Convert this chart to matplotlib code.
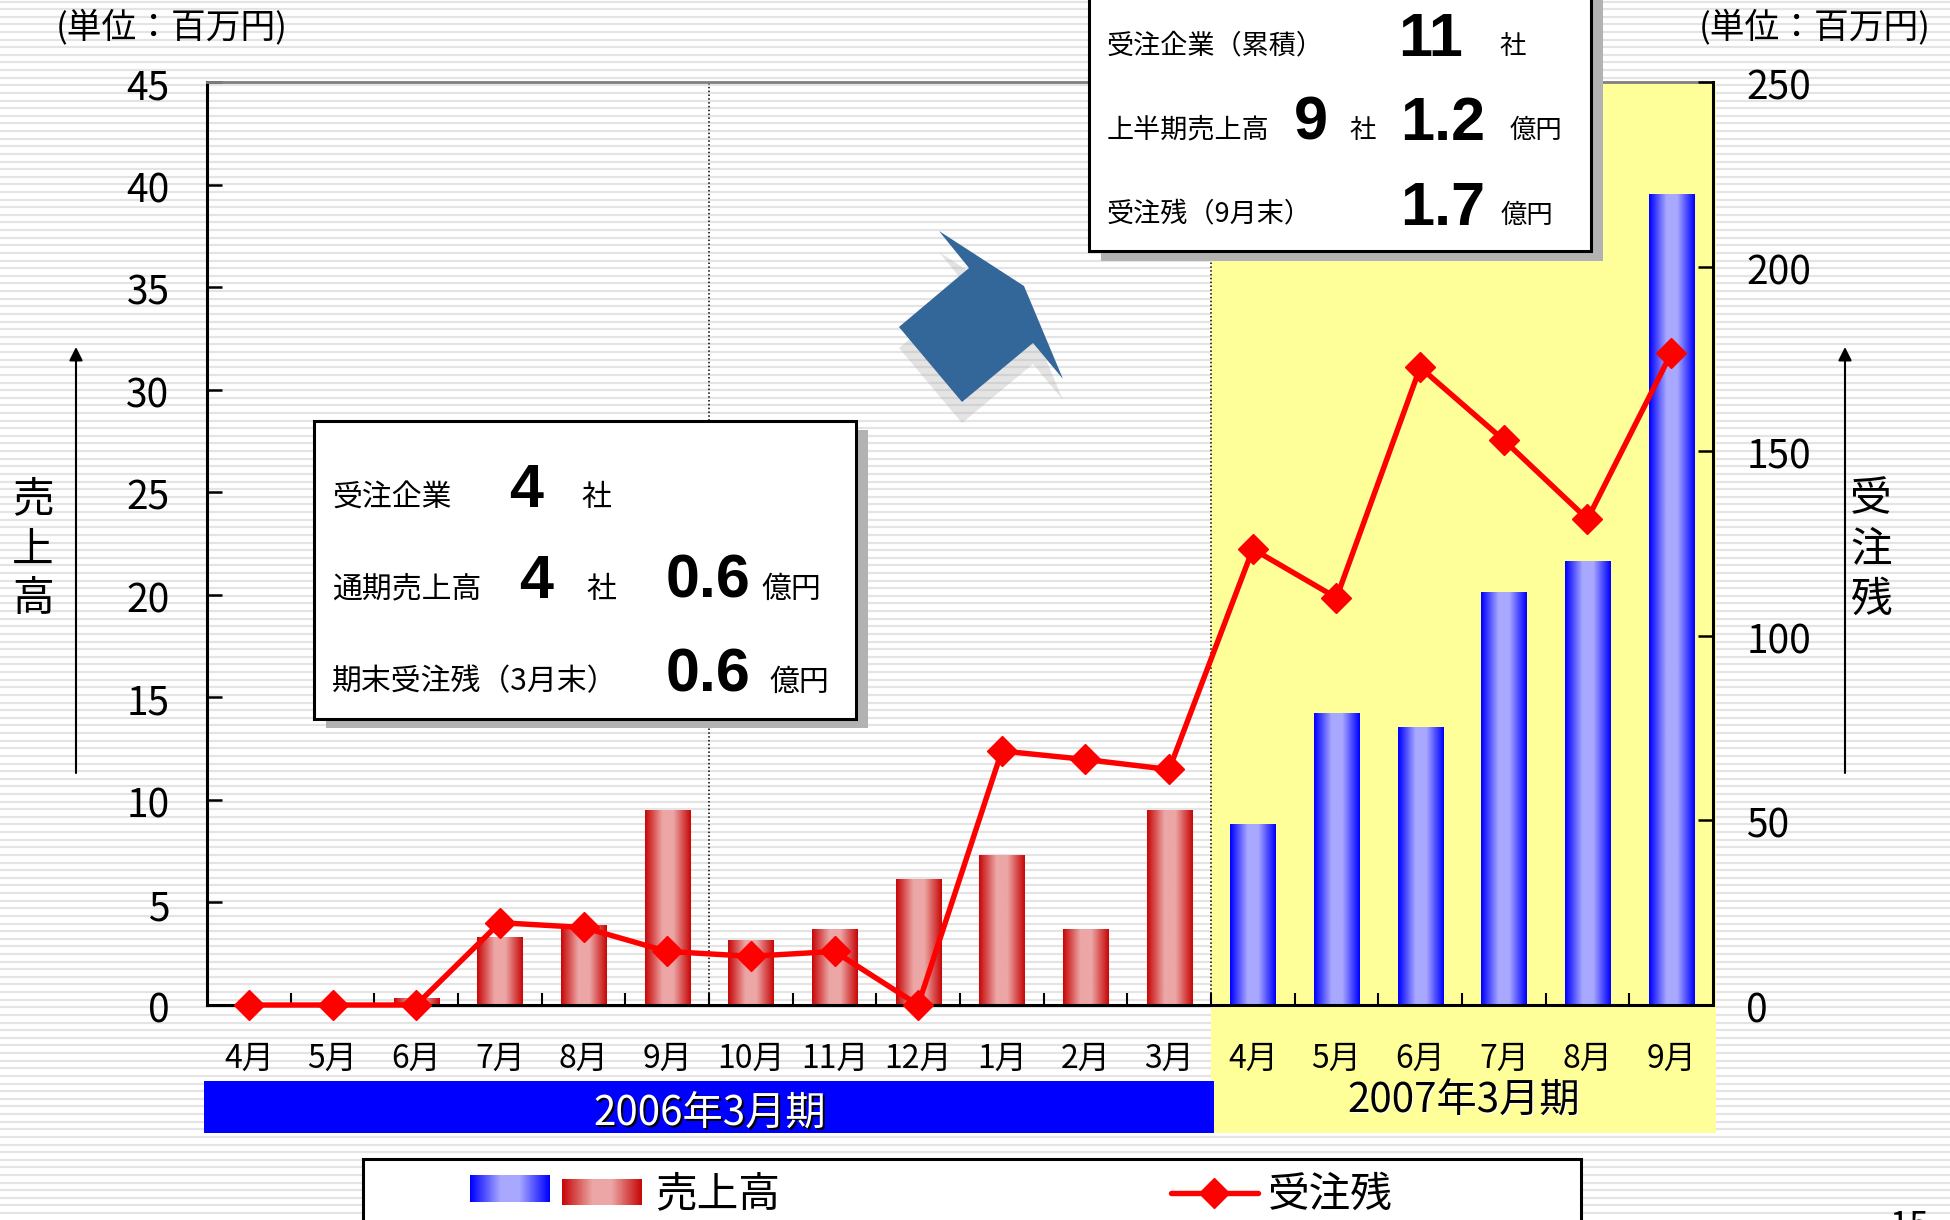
import matplotlib
matplotlib.use('Agg')
import matplotlib.pyplot as plt
import matplotlib.patches as mpatches
from matplotlib.colors import LinearSegmentedColormap
from matplotlib.transforms import ScaledTranslation
import numpy as np

plt.rcParams['font.family'] = ['Noto Sans CJK JP', 'DejaVu Sans']

months = ['4月', '5月', '6月', '7月', '8月', '9月', '10月', '11月', '12月',
          '1月', '2月', '3月', '4月', '5月', '6月', '7月', '8月', '9月']
sales = [0, 0, 0.3, 3.3, 3.9, 9.5, 3.15, 3.7, 6.1, 7.3, 3.7, 9.5,
         8.8, 14.2, 13.55, 20.1, 21.6, 39.5]
backlog = [0, 0, 0, 22.3, 21, 14.5, 13.2, 14.5, 0, 68.8, 66.5, 63.8,
           123.5, 110.3, 172.7, 153, 131.6, 176.5]
left_ticks = [0, 5, 10, 15, 20, 25, 30, 35, 40, 45]
right_ticks = [0, 50, 100, 150, 200, 250]
n_first_period = 12
W, H = 1950, 1220
AX_L, AX_R, AX_T, AX_B = 207, 1713, 82, 1005
BIG = ['Liberation Sans', 'DejaVu Sans']

red_cmap = LinearSegmentedColormap.from_list('r', [(0, '#c80808'), (0.38, '#eca6a6'), (0.62, '#eca6a6'), (1, '#c80808')])
blue_cmap = LinearSegmentedColormap.from_list('b', [(0, '#0000ff'), (0.38, '#a8a8ff'), (0.62, '#a8a8ff'), (1, '#0000ff')])
grad = np.linspace(0, 1, 64).reshape(1, -1)

fig = plt.figure(figsize=(W / 100, H / 100), dpi=100, facecolor='white')

# background layer, in pixels
bg = fig.add_axes([0, 0, 1, 1], zorder=0)
bg.set_xlim(0, W)
bg.set_ylim(H, 0)
bg.axis('off')
for y in np.arange(1.5, H, 7.62):
    bg.axhline(y, color='#e4e4e4', lw=1.6, zorder=0)
bg.add_patch(mpatches.Rectangle((1211, AX_T), 505, 1133 - AX_T, fc='#ffff99', ec='none', zorder=1))
bg.add_patch(mpatches.Rectangle((204, 1081), 1010, 52, fc='#0000ff', ec='none', zorder=2))

# chart
ax = fig.add_axes([AX_L / W, 1 - AX_B / H, (AX_R - AX_L) / W, (AX_B - AX_T) / H], zorder=2)
ax.patch.set_alpha(0)
x = np.arange(len(months))
bars = ax.bar(x, sales, width=0.54, color='none')
for i, b in enumerate(bars):
    cmap = red_cmap if i < n_first_period else blue_cmap
    ax.imshow(grad, cmap=cmap, aspect='auto', zorder=2,
              extent=(b.get_x(), b.get_x() + b.get_width(), 0, b.get_height()))
ax.set_xlim(-0.5, len(months) - 0.5)
ax.set_ylim(0, 45)
ax.set_aspect('auto')
ax.axvline(n_first_period / 2 - 0.5, color='black', lw=1.1, ls=(0, (1, 1.5)), zorder=1)
ax.axvline(n_first_period - 0.5, color='black', lw=1.1, ls=(0, (1, 1.5)), zorder=1)
ax.set_yticks(left_ticks)
ax.set_xticks(x[:-1] + 0.5)
ax.set_xticklabels([])
ax.set_xticks(x, labels=months, minor=True)
ax.tick_params(axis='x', which='major', direction='in', length=8.6, width=1.5)
ax.tick_params(axis='x', which='minor', length=0, pad=27.5, labelsize=23)
ax.tick_params(axis='y', direction='in', length=10.8, width=1.8, pad=27, labelsize=28)
ax.spines['left'].set_linewidth(2.2)
ax.spines['bottom'].set_linewidth(2.2)
ax.spines['top'].set_color('#808080')
ax.spines['top'].set_linewidth(2)
ax.spines['right'].set_visible(False)

ax2 = ax.twinx()
ax2.set_zorder(3)
ax2.patch.set_alpha(0)
ax2.plot(x, backlog, color='#ff0000', lw=3.9, marker='D', ms=15, mec='#ff0000', clip_on=False)
ax2.set_ylim(0, 250)
ax2.set_yticks(right_ticks)
ax2.tick_params(axis='y', direction='in', length=10.8, width=1.8, pad=24, labelsize=28)
for side in ['left', 'top', 'bottom']:
    ax2.spines[side].set_visible(False)
ax2.spines['right'].set_linewidth(2.2)

# tick numbers sit slightly under their ticks
shift = ScaledTranslation(0, -1.5 / 72, fig.dpi_scale_trans)
for tl in ax.get_yticklabels() + ax2.get_yticklabels():
    tl.set_transform(tl.get_transform() + shift)

# overlay layer, in pixels
ov = fig.add_axes([0, 0, 1, 1], zorder=5)
ov.set_xlim(0, W)
ov.set_ylim(H, 0)
ov.axis('off')
ov.patch.set_alpha(0)


def label(px, py, s, size, ha='center', color='black', **kw):
    ov.text(px, py, s, fontsize=size, ha=ha, va='center', color=color, **kw)


def digits(px, py, s):
    ov.text(px, py, s, fontsize=44, ha='center', va='baseline', family=BIG, weight='bold')


def box(x0, y0, x1, y1, dx, dy):
    ov.add_patch(mpatches.Rectangle((x0 + dx, y0 + dy), x1 - x0, y1 - y0, fc='#b2b2b2', ec='none'))
    ov.add_patch(mpatches.Rectangle((x0, y0), x1 - x0, y1 - y0, fc='white', ec='black', lw=2.2))


# units and side labels
label(56, 27, '(単位：百万円)', 25, ha='left')
label(1699, 27, '(単位：百万円)', 25, ha='left')
for i, ch in enumerate('売上高'):
    label(33, 500 + i * 50, ch, 30)
for i, ch in enumerate('受注残'):
    label(1871, 500 + i * 50, ch, 30)
for ax_x in (76, 1845):
    ov.annotate('', xy=(ax_x, 347), xytext=(ax_x, 773),
                arrowprops=dict(arrowstyle='-|>,head_width=0.4,head_length=0.8', color='black', lw=1.5,
                                shrinkA=0, shrinkB=0))

# period bands
label(712, 1115, '2006年3月期', 29, color='black')
label(710, 1113, '2006年3月期', 29, color='white')
label(1465, 1101, '2007年3月期', 29, color='white')
label(1464, 1100, '2007年3月期', 29, color='black')

# arrow
arrow_pts = np.array([(939, 231), (969, 268), (899, 327), (962, 402), (1033, 343), (1063, 379), (1024, 286)])
ov.add_patch(mpatches.Polygon(arrow_pts + [0, 21], fc='#b2b2b2', alpha=0.35, ec='none'))
ov.add_patch(mpatches.Polygon(arrow_pts, fc='#336699', ec='none'))

# first box
box(314, 421, 856, 719, 12, 9)
label(332, 497, '受注企業', 21.5, ha='left')
digits(526, 507, '4')
label(596, 497, '社', 21.5)
label(332, 589, '通期売上高', 21.5, ha='left')
digits(536, 598, '4')
label(601, 589, '社', 21.5)
digits(708, 598, '0.6')
label(791, 589, '億円', 21.5)
label(332, 682, '期末受注残（3月末）', 21.5, ha='left')
digits(708, 691, '0.6')
label(799, 682, '億円', 21.5)

# second box
box(1089, -20, 1591, 251, 12, 10)
label(1107, 46, '受注企業（累積）', 19.5, ha='left')
digits(1431, 56, '11')
label(1513, 46, '社', 19)
label(1107, 130, '上半期売上高', 19.5, ha='left')
digits(1311, 140, '9')
label(1363, 130, '社', 19)
digits(1443, 140, '1.2')
label(1536, 130, '億円', 19)
label(1107, 215, '受注残（9月末）', 19.5, ha='left')
digits(1443, 225, '1.7')
label(1527, 215, '億円', 19)

# legend
ov.add_patch(mpatches.Rectangle((363, 1159), 1218, 100, fc='white', ec='black', lw=2.2))
ov.imshow(grad, cmap=blue_cmap, aspect='auto', extent=(470, 550, 1202, 1175), zorder=3)
ov.imshow(grad, cmap=red_cmap, aspect='auto', extent=(562, 642, 1205, 1179), zorder=3)
ov.set_xlim(0, W)
ov.set_ylim(H, 0)
label(718, 1195, '売上高', 30)
ov.plot([1171, 1258], [1193, 1193], color='#ff0000', lw=3.9, solid_capstyle='round')
ov.plot([1214], [1193], color='#ff0000', marker='D', ms=15)
label(1330, 1195, '受注残', 30)

# page number, cut by the page edge
ov.text(1909, 1236, '15', fontsize=25, ha='center', va='baseline', clip_on=False)

fig.savefig('out.png', dpi=100)
